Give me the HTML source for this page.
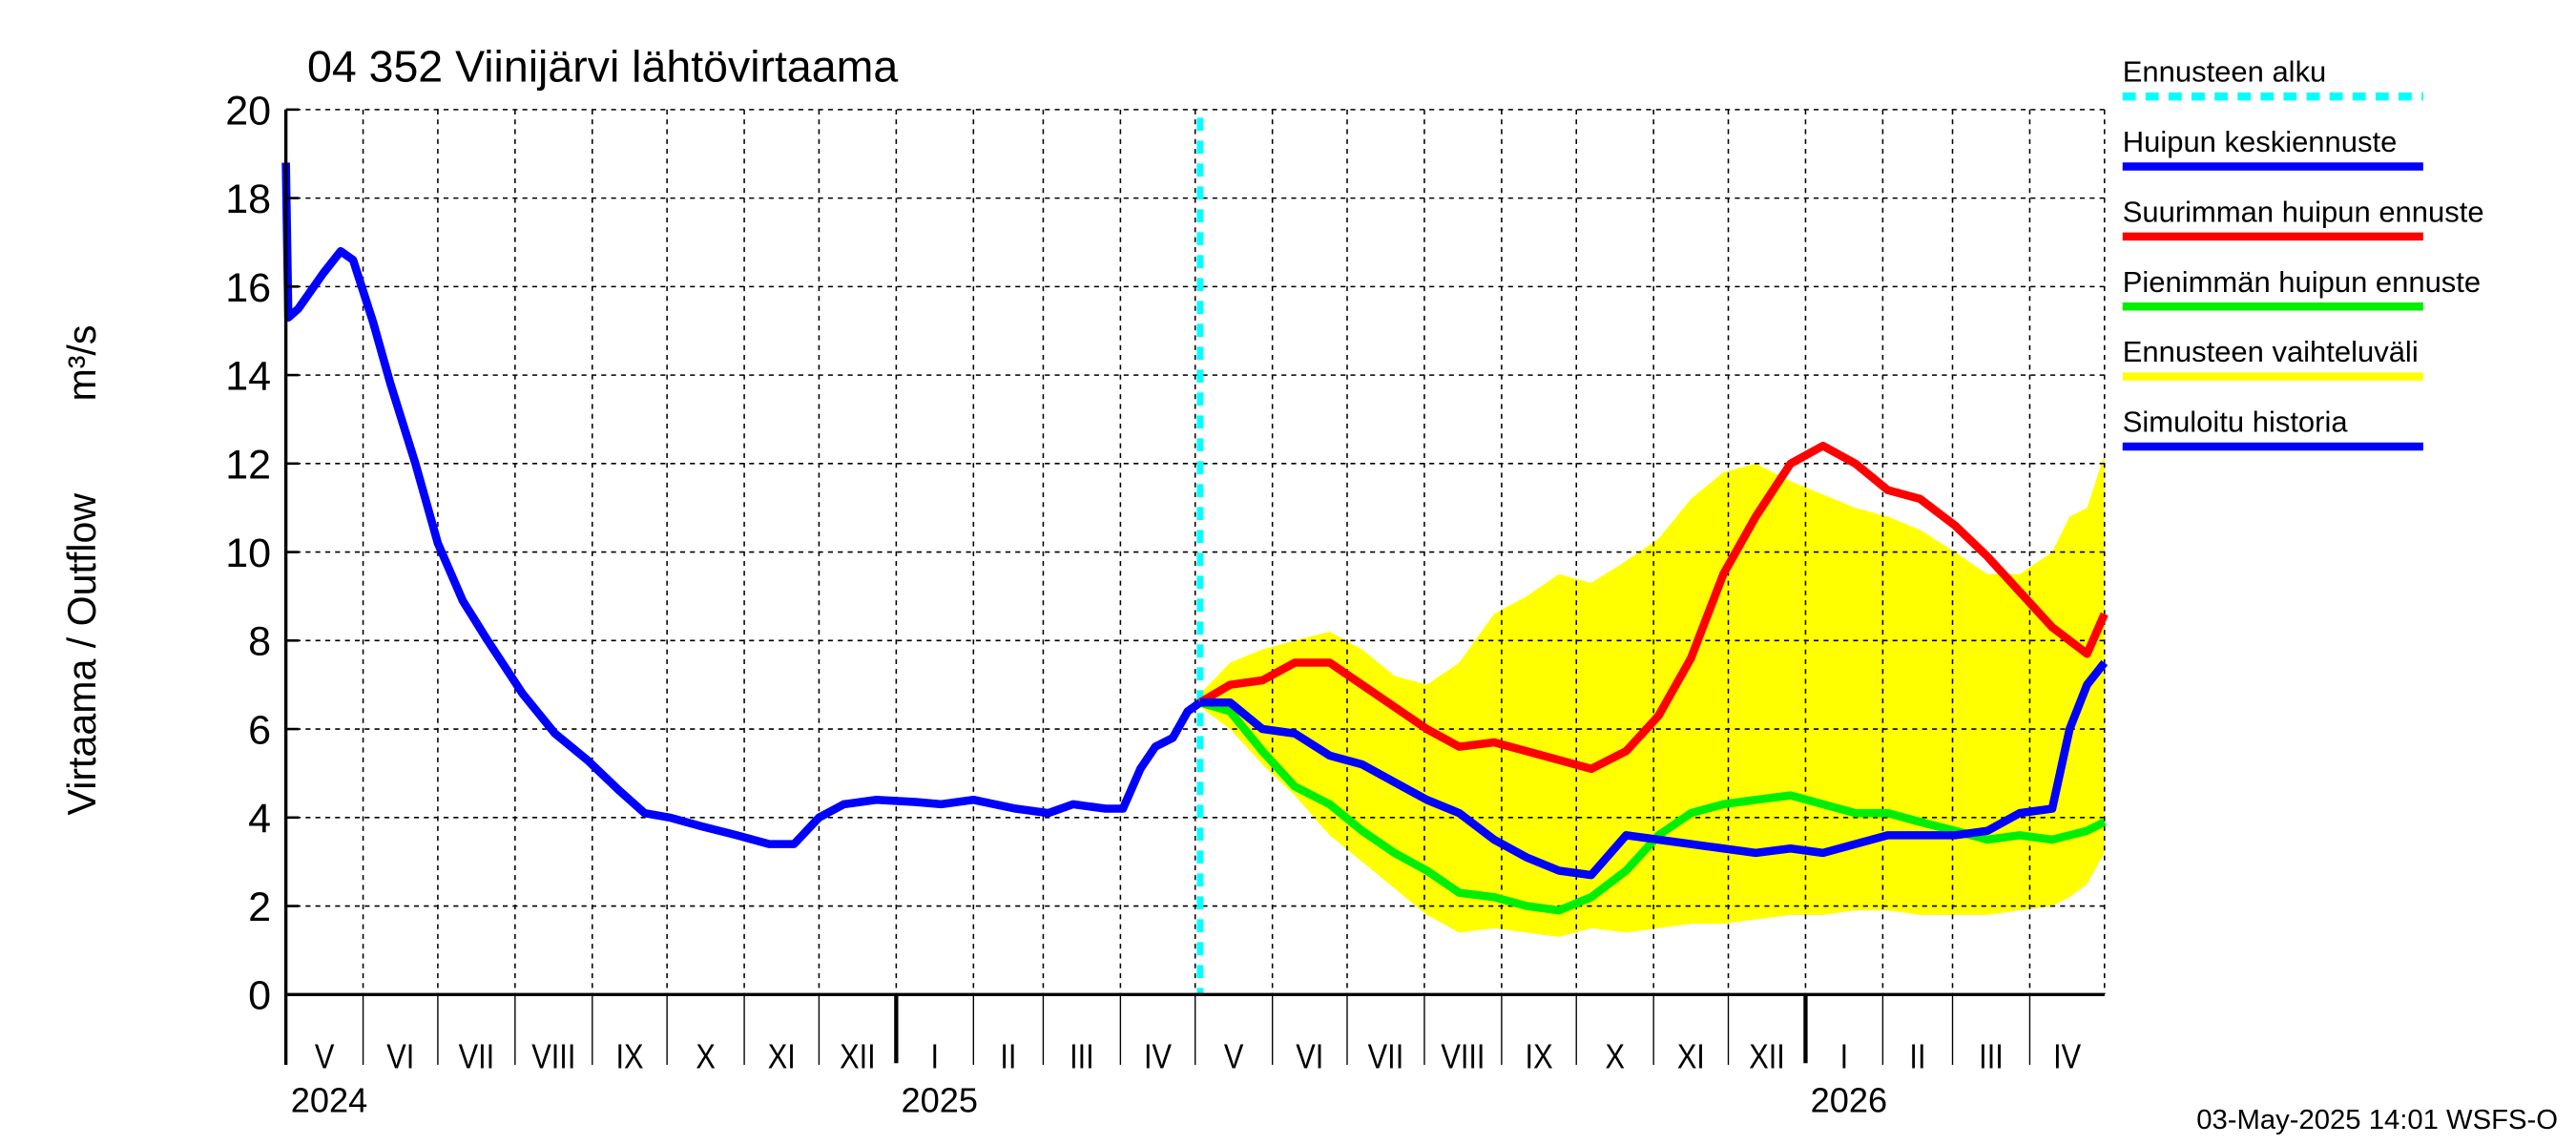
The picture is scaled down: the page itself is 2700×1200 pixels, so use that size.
<!DOCTYPE html>
<html><head><meta charset="utf-8"><style>
html,body{margin:0;padding:0;background:#fff}
svg{display:block}
text{font-family:"Liberation Sans",sans-serif;fill:#000}
</style></head><body>
<svg id="chart" width="2700" height="1200" viewBox="0 0 1568 700" preserveAspectRatio="none" xmlns="http://www.w3.org/2000/svg">
<rect width="1568" height="700" fill="#fff"/>
<g id="bands"></g><g id="grid"></g><g id="series"></g><g id="axes"></g>
<text x="187" y="50" font-size="27">04 352 Viinijärvi lähtövirtaama</text>
<text transform="translate(58,400) rotate(-90)" font-size="24" text-anchor="middle">Virtaama / Outflow</text>
<text transform="translate(58,222) rotate(-90)" font-size="24" text-anchor="middle">m³/s</text>
<text x="1557" y="690" font-size="17" text-anchor="end">03-May-2025 14:01 WSFS-O</text>
<g id="legend"></g>
</svg>
<script>
const histDays=[0,1,5,15,22,27,35,42,52,61,71,81,95,108,121,134,144,154,167,181,194,204,214,224,237,253,263,276,293,306,316,329,336,343,349,356,362,367];
const histVals=[18.8,15.3,15.5,16.3,16.8,16.6,15.2,13.8,12.0,10.2,8.9,8.0,6.8,5.9,5.3,4.6,4.1,4.0,3.8,3.6,3.4,3.4,4.0,4.3,4.4,4.35,4.3,4.4,4.2,4.1,4.3,4.2,4.2,5.1,5.6,5.8,6.4,6.6];
const fcDays=[367,379,392,405,419,432,445,458,471,485,498,511,524,538,551,564,577,590,604,617,630,643,656,670,683,696,709,716,723,730];
const meanVals=[6.6,6.6,6.0,5.9,5.4,5.2,4.8,4.4,4.1,3.5,3.1,2.8,2.7,3.6,3.5,3.4,3.3,3.2,3.3,3.2,3.4,3.6,3.6,3.6,3.7,4.1,4.2,6.0,7.0,7.5];
const maxVals=[6.6,7.0,7.1,7.5,7.5,7.0,6.5,6.0,5.6,5.7,5.5,5.3,5.1,5.5,6.3,7.6,9.5,10.8,12.0,12.4,12.0,11.4,11.2,10.6,9.9,9.1,8.3,8.0,7.7,8.6];
const minVals=[6.6,6.4,5.5,4.7,4.3,3.7,3.2,2.8,2.3,2.2,2.0,1.9,2.2,2.8,3.6,4.1,4.3,4.4,4.5,4.3,4.1,4.1,3.9,3.7,3.5,3.6,3.5,3.6,3.7,3.9];
const upperVals=[6.8,7.5,7.8,8.0,8.2,7.8,7.2,7.0,7.5,8.6,9.0,9.5,9.3,9.8,10.3,11.2,11.8,12.0,11.6,11.3,11.0,10.8,10.5,10.0,9.5,9.5,10.0,10.8,11.0,12.2];
const lowerVals=[6.5,6.0,5.2,4.5,3.6,3.0,2.4,1.8,1.4,1.5,1.4,1.3,1.5,1.4,1.5,1.6,1.6,1.7,1.8,1.8,1.9,1.9,1.8,1.8,1.8,1.9,2.0,2.2,2.5,3.2];
const yTicks=[0,2,4,6,8,10,12,14,16,18,20];
const monthLabels=["V","VI","VII","VIII","IX","X","XI","XII","I","II","III","IV","V","VI","VII","VIII","IX","X","XI","XII","I","II","III","IV"];
const yearLabels=["2024","2025","2026"];
const forecastDay=367;

const X0=174,X1=1281,Y0=608,Y1=67,TOTAL=730;
const sx=d=>X0+d*(X1-X0)/TOTAL;
const sy=v=>Y0-v*(Y0-Y1)/20;
const NS="http://www.w3.org/2000/svg";
function mk(tag,attrs,parent){const e=document.createElementNS(NS,tag);for(const k in attrs)e.setAttribute(k,attrs[k]);parent.appendChild(e);return e;}
const grid=document.getElementById('grid'),axes=document.getElementById('axes'),series=document.getElementById('series'),bands=document.getElementById('bands');
const start=new Date(Date.UTC(2024,4,1));
const mDays=[];
for(let i=0;i<=24;i++){const d=new Date(Date.UTC(2024,4+i,1));mDays.push(Math.round((d-start)/86400000));}
yTicks.forEach(v=>{
  if(v>0&&v<20){const l=mk('line',{x1:X0,x2:X1,y1:sy(v),y2:sy(v),stroke:'#000','stroke-width':0.9,'stroke-dasharray':'3,3'},grid);
  }
  const t=mk('text',{x:165,y:sy(v)+9,'font-size':25,'text-anchor':'end'},axes);t.textContent=v;
  
  mk('line',{x1:X0,x2:X0+8,y1:sy(v),y2:sy(v),stroke:'#000','stroke-width':1.5},axes);
});
mk('line',{x1:X1,x2:X1,y1:Y1,y2:Y0,stroke:'#000','stroke-width':0.9,'stroke-dasharray':'3,3'},grid);
mk('line',{x1:X0,x2:X1,y1:Y1,y2:Y1,stroke:'#000','stroke-width':0.9,'stroke-dasharray':'3,3'},grid);
for(let i=0;i<24;i++){
  const x=sx(mDays[i]),isYear=(i===8||i===20);
  if(i>0){const g=mk('line',{x1:x,x2:x,y1:Y1,y2:Y0,stroke:'#000','stroke-width':0.9,'stroke-dasharray':'3,3'},grid);
    }
  mk('line',{x1:x,x2:x,y1:Y0,y2:isYear?650:651,stroke:'#000','stroke-width':isYear?2.5:0.8},axes);
  const mx=(sx(mDays[i])+sx(mDays[i+1]))/2;
  const t=mk('text',{x:mx,y:653,'font-size':21,'text-anchor':'middle',transform:'translate('+mx+',0) scale(0.85,1) translate('+(-mx)+',0)'},axes);t.textContent=monthLabels[i];
  
}
[0,8,20].forEach((mi,k)=>{const t=mk('text',{x:sx(mDays[mi])+3,y:680,'font-size':21},axes);t.textContent=yearLabels[k];
  });
mk('line',{x1:X0,x2:X0,y1:Y1,y2:651,stroke:'#000','stroke-width':2},axes);
mk('line',{x1:X0,x2:X1,y1:Y0,y2:Y0,stroke:'#000','stroke-width':2},axes);
let pts=fcDays.map((d,i)=>sx(d)+','+sy(upperVals[i]));
pts=pts.concat(fcDays.map((d,i)=>sx(d)+','+sy(lowerVals[i])).reverse());
const band=mk('polygon',{points:pts.join(' '),fill:'#ffff00'},bands);

const fs=mk('line',{x1:sx(forecastDay),x2:sx(forecastDay),y1:Y1+5,y2:Y0,stroke:'#00ffff','stroke-width':4,'stroke-dasharray':'8,6'},series);

function line(days,vals,color,name){
  const p=mk('polyline',{points:days.map((d,i)=>sx(d)+','+sy(vals[i])).join(' '),fill:'none',stroke:color,'stroke-width':5,'stroke-linejoin':'round'},series);
  
}
line(fcDays,minVals,'#00ee00','min-peak-forecast-line');
line(fcDays,maxVals,'#ff0000','max-peak-forecast-line');
line(fcDays,meanVals,'#0000ff','mean-peak-forecast-line');
line(histDays,histVals,'#0000ff','simulated-history-line');
const leg=document.getElementById('legend');
const items=[["Ennusteen alku","#00ffff",true],["Huipun keskiennuste","#0000ff"],["Suurimman huipun ennuste","#ff0000"],["Pienimmän huipun ennuste","#00ee00"],["Ennusteen vaihteluväli","#ffff00"],["Simuloitu historia","#0000ff"]];
items.forEach((it,i)=>{
  const y=50+i*42.8;
  const t=mk('text',{x:1292,y:y,'font-size':18},leg);t.textContent=it[0];
  
  const a={x1:1292,x2:1475,y1:y+9,y2:y+9,stroke:it[1],'stroke-width':5};
  if(it[2])a['stroke-dasharray']='8,6';
  mk('line',a,leg);
});
</script>
</body></html>
